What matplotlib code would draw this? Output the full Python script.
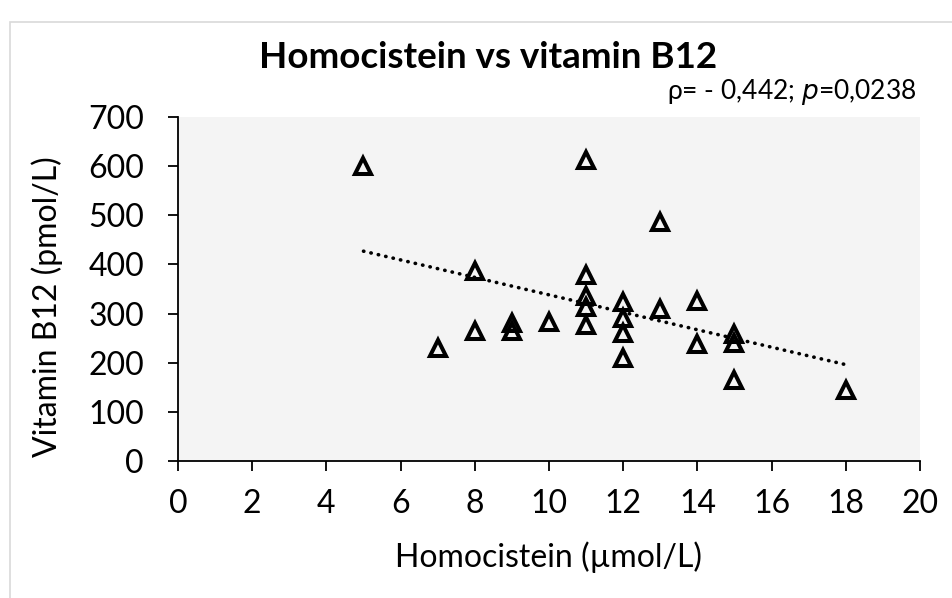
import matplotlib.pyplot as plt
import numpy as np
from matplotlib.patches import Rectangle

plt.rcParams['font.family'] = ['Lato', 'DejaVu Sans']

# homocistein (umol/L) and vitamin B12 (pmol/L)
homocistein = [5, 7, 8, 8, 9, 9, 10, 11, 11, 11, 11, 11,
               12, 12, 12, 12, 13, 13, 14, 14, 15, 15, 15, 18]
vitamin_b12 = [600, 229, 387, 265, 280, 265, 282, 612, 379, 336, 313, 276,
               323, 292, 260, 210, 486, 309, 326, 239, 258, 241, 164, 144]

xticks = [0, 2, 4, 6, 8, 10, 12, 14, 16, 18, 20]
yticks = [0, 100, 200, 300, 400, 500, 600, 700]

fig = plt.figure(figsize=(9.53, 5.98), dpi=100)
fig.patches.append(Rectangle((10 / 953, -0.1), 1.1, 1 - 22 / 598 + 0.1,
                             transform=fig.transFigure, fill=False,
                             edgecolor='#d9d9d9', lw=1.2))
ax = fig.add_axes([178 / 953, 1 - 461 / 598, (920 - 178) / 953, (461 - 117) / 598])
ax.set_facecolor('#f4f4f4')

x = np.array(homocistein, dtype=float)
y = np.array(vitamin_b12, dtype=float)
# linear trend line (least squares), as in the original
k, b = np.polyfit(x, y, 1)
xt = np.array([x.min(), x.max()])
ax.plot(xt, k * xt + b, color='black', lw=2.6, linestyle=(0, (0.1, 2.0)),
        dash_capstyle='round', zorder=2)

ax.plot(x, y, linestyle='none', marker='^', ms=12, mfc='none', mec='black',
        mew=2.9, zorder=3)

ax.set_xlim(0, 20)
ax.set_ylim(0, 700)
ax.set_xticks(xticks)
ax.set_yticks(yticks)
for s in ['top', 'right']:
    ax.spines[s].set_visible(False)
for s in ['left', 'bottom']:
    ax.spines[s].set_linewidth(1.3)
ax.tick_params(direction='out', length=7.5, width=1.3, labelsize=23)
ax.tick_params(axis='y', pad=17)
ax.tick_params(axis='x', pad=13)

ax.set_xlabel('Homocistein (µmol/L)', fontsize=23, va='center')
ax.xaxis.set_label_coords(0.5, (461 - 557) / 344)
ax.set_ylabel('Vitamin B12 (pmol/L)', fontsize=23, va='center')
ax.yaxis.set_label_coords((47 - 178) / 742, (461 - 307) / 344)

fig.text(488 / 953, 1 - 58 / 598, 'Homocistein vs vitamin B12', fontsize=26.5,
         fontweight='bold', ha='center', va='center')
fig.text(916 / 953, 1 - 92 / 598, 'ρ= - 0,442; $\\it{p}$=0,0238', fontsize=19,
         ha='right', va='center')

plt.savefig('out.png', dpi=100)
